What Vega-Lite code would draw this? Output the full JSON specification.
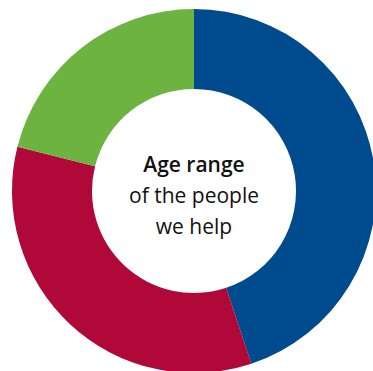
{
  "$schema": "https://vega.github.io/schema/vega-lite/v6.json",
  "width": 373,
  "height": 371,
  "autosize": {"type": "fit", "contains": "padding"},
  "padding": {"left": 15, "top": 11, "right": 0, "bottom": 0},
  "background": "white",
  "view": {"stroke": null},
  "layer": [
    {
      "data": {"values": [
        {"group": "A", "share": 44.9, "order": 1},
        {"group": "B", "share": 34.0, "order": 2},
        {"group": "C", "share": 21.1, "order": 3}
      ]},
      "mark": {"type": "arc", "outerRadius": 182, "innerRadius": 102},
      "encoding": {
        "theta": {"field": "share", "type": "quantitative", "stack": true},
        "order": {"field": "order", "type": "quantitative"},
        "color": {"field": "group", "type": "nominal", "legend": null,
          "scale": {"domain": ["A", "B", "C"], "range": ["#004B8D", "#B1083A", "#6DB33F"]}}
      }
    },
    {
      "data": {"values": [{"label": "Age range"}]},
      "mark": {"type": "text", "font": "Open Sans", "fontSize": 21, "fontWeight": 600, "color": "#111111", "baseline": "alphabetic", "align": "center", "dy": -19},
      "encoding": {"text": {"field": "label"}}
    },
    {
      "data": {"values": [{"label": ["of the people", "we help"]}]},
      "mark": {"type": "text", "font": "Open Sans", "fontSize": 21, "fontWeight": 400, "color": "#111111", "baseline": "alphabetic", "align": "center", "dy": 11.5, "lineHeight": 31},
      "encoding": {"text": {"field": "label"}}
    }
  ]
}
